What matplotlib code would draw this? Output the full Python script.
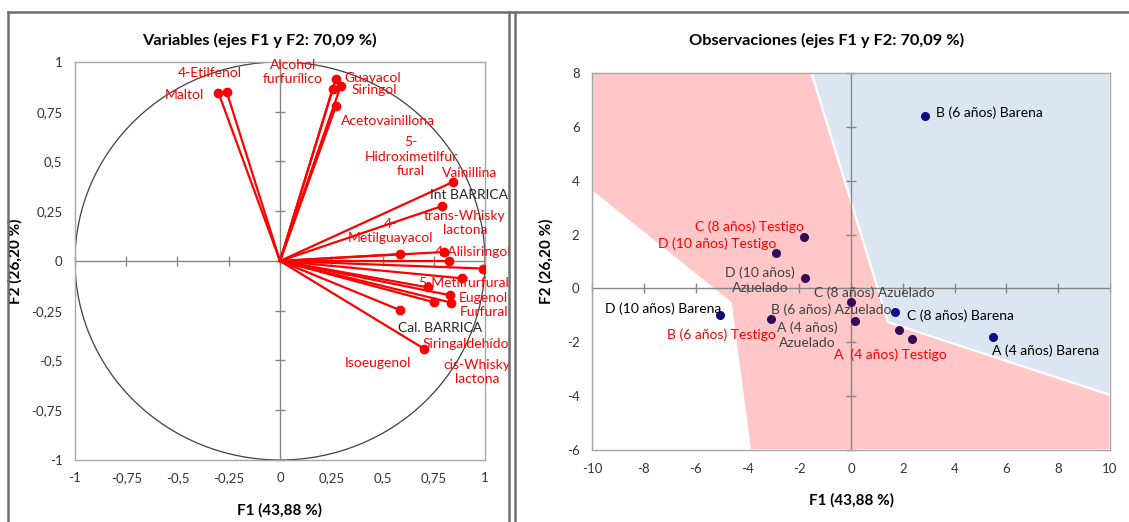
import numpy as np
import matplotlib.pyplot as plt
from matplotlib.patches import Polygon, Circle
from matplotlib.lines import Line2D
from matplotlib.ticker import FuncFormatter

plt.rcParams['font.family'] = ['Lato', 'DejaVu Sans']

# Variables: coordinates on F1 / F2 (correlation circle)
var_labels = [
    "Maltol", "4-Etilfenol",
    "Alcohol\nfurfurílico", "Guayacol", "Siringol", "Acetovainillona",
    "Vainillina", "trans-Whisky\nlactona", "4-\nMetilguayacol", "4-Alilsiringol",
    "5-\nHidroximetilfur\nfural", "Int BARRICA", "5-Metilfurfural", "Eugenol",
    "Furfural", "Cal. BARRICA", "cis-Whisky\nlactona", "Isoeugenol",
    "Siringaldehído",
]
var_f1 = [-0.30, -0.26, 0.257, 0.272, 0.296, 0.273,
          0.843, 0.788, 0.587, 0.80,
          0.824, 0.989, 0.887, 0.724,
          0.829, 0.749, 0.834, 0.583,
          0.701]
var_f2 = [0.845, 0.85, 0.863, 0.915, 0.879, 0.779,
          0.397, 0.275, 0.035, 0.045,
          0.0, -0.038, -0.087, -0.133,
          -0.172, -0.207, -0.209, -0.246,
          -0.44]
var_supplementary = ["Int BARRICA", "Cal. BARRICA"]

# where each variable name is written (centre of the text)
var_text_xy = [(-0.468, 0.834), (-0.341, 0.945),
               (0.063, 0.95), (0.454, 0.92), (0.459, 0.859), (0.527, 0.704),
               (0.927, 0.442), (0.902, 0.19), (0.541, 0.15), (0.94, 0.045),
               (0.639, 0.523), (0.922, 0.332), (0.897, -0.11), (0.99, -0.186),
               (0.995, -0.256), (0.78, -0.337), (0.96, -0.558), (0.478, -0.513),
               (0.907, -0.417)]

# Observations: scores on F1 / F2
obs_labels = [
    "B (6 años) Barena", "C (8 años) Barena", "A (4 años) Barena", "D (10 años) Barena",
    "C (8 años) Testigo", "D (10 años) Testigo", "B (6 años) Testigo", "A  (4 años) Testigo",
    "D (10 años)\nAzuelado", "C (8 años) Azuelado", "B (6 años) Azuelado", "A (4 años)\nAzuelado",
]
obs_group = ["Barena"] * 4 + ["Testigo"] * 4 + ["Azuelado"] * 4
obs_f1 = [2.86, 1.68, 5.49, -5.05,
          -1.83, -2.89, -3.09, 2.35,
          -1.79, 0.0, 0.17, 1.84]
obs_f2 = [6.39, -0.88, -1.81, -0.99,
          1.91, 1.30, -1.12, -1.88,
          0.37, -0.50, -1.21, -1.53]
obs_text_xy = [(5.34, 6.53), (4.22, -1.02), (7.51, -2.33), (-7.26, -0.75),
               (-3.92, 2.29), (-5.15, 1.66), (-5.0, -1.71), (1.53, -2.45),
               (-3.52, 0.31), (0.91, -0.16), (-0.76, -0.78), (-1.70, -1.73)]

# class regions drawn behind the observations
red_region_x = [-10, -1.52, 1.43, 10, 10, -3.9, -4.65, -10]
red_region_y = [8, 8, -1.25, -3.95, -6, -6, -0.53, 3.6]
blue_region_x = [-1.52, 10, 10, 1.43]
blue_region_y = [8, 8, -3.95, -1.25]

var_ticks = [-1, -0.75, -0.5, -0.25, 0, 0.25, 0.5, 0.75, 1]
obs_xticks = list(range(-10, 11, 2))
obs_yticks = list(range(-6, 9, 2))

comma = FuncFormatter(lambda v, _: f"{v:g}".replace('.', ','))

frame_col = '#a6a6a6'
axis_col = '#868686'
red = '#ff0000'

fig = plt.figure(figsize=(11.29, 5.22), dpi=100)
ax1 = fig.add_axes([0.0664, 0.1188, 0.3632, 0.7625])
ax2 = fig.add_axes([0.5244, 0.1379, 0.4588, 0.7222])


def style_axes(ax, xt, yt, xlim, ylim, tsize):
    ax.set_xlim(xlim)
    ax.set_ylim(ylim)
    ax.set_xticks(xt)
    ax.set_yticks(yt)
    ax.xaxis.set_major_formatter(comma)
    ax.yaxis.set_major_formatter(comma)
    ax.tick_params(length=0, labelsize=tsize, colors='#333333', pad=9)
    for s in ax.spines.values():
        s.set_color(frame_col)
        s.set_linewidth(1.0)
    # axes through the origin with cross ticks
    ax.axhline(0, color=axis_col, lw=1.0, zorder=2)
    ax.axvline(0, color=axis_col, lw=1.0, zorder=2)
    ax.plot(xt, np.zeros(len(xt)), ls='none', marker='|', ms=7, mew=1.0,
            color=axis_col, zorder=2, clip_on=False)
    ax.plot(np.zeros(len(yt)), yt, ls='none', marker='_', ms=7, mew=1.0,
            color=axis_col, zorder=2, clip_on=False)


# --- correlation circle ---
style_axes(ax1, var_ticks, var_ticks, (-1, 1), (-1, 1), 9.5)
ax1.add_patch(Circle((0, 0), 1, fill=False, ec='#404040', lw=0.9, zorder=1))
for lab, x, y, (tx, ty) in zip(var_labels, var_f1, var_f2, var_text_xy):
    ax1.plot([0, x], [0, y], color=red, lw=1.6, zorder=3)
    ax1.plot(x, y, 'o', color=red, ms=6, zorder=4)
    col = '#262626' if lab in var_supplementary else red
    ax1.text(tx, ty, lab, color=col, fontsize=10, ha='center', va='center',
             linespacing=1.25, zorder=5)
ax1.set_xlabel("F1 (43,88 %)", fontsize=11, fontweight='bold')
ax1.set_ylabel("F2 (26,20 %)", fontsize=11, fontweight='bold')
ax1.xaxis.set_label_coords(0.5, -0.108)
ax1.yaxis.set_label_coords(-0.127, 0.5)

# --- observations ---
style_axes(ax2, obs_xticks, obs_yticks, (-10, 10), (-6, 8), 9.5)
ax2.add_patch(Polygon(np.column_stack([red_region_x, red_region_y]), closed=True,
                      fc='#ffc7c7', ec='white', lw=1.5, zorder=0))
ax2.add_patch(Polygon(np.column_stack([blue_region_x, blue_region_y]), closed=True,
                      fc='#dce6f2', ec='white', lw=1.5, zorder=0))
dot_col = {"Barena": '#0d0d8a', "Testigo": '#330a55', "Azuelado": '#330a55'}
text_col = {"Barena": '#000000', "Testigo": red, "Azuelado": '#404040'}
for lab, g, x, y, (tx, ty) in zip(obs_labels, obs_group, obs_f1, obs_f2, obs_text_xy):
    ax2.plot(x, y, 'o', color=dot_col[g], ms=5.5, zorder=4)
    ax2.text(tx, ty, lab, color=text_col[g], fontsize=10, ha='center', va='center',
             linespacing=1.35, zorder=5)
ax2.set_xlabel("F1 (43,88 %)", fontsize=11, fontweight='bold')
ax2.set_ylabel("F2 (26,20 %)", fontsize=11, fontweight='bold')
ax2.xaxis.set_label_coords(0.5, -0.114)
ax2.yaxis.set_label_coords(-0.075, 0.5)

fig.text(259 / 1129, 1 - 40 / 522, "Variables (ejes F1 y F2: 70,09 %)",
         ha='center', va='center', fontsize=11.8, fontweight='bold')
fig.text(827 / 1129, 1 - 40 / 522, "Observaciones (ejes F1 y F2: 70,09 %)",
         ha='center', va='center', fontsize=11.8, fontweight='bold')

# panel frames
W, H = 1129, 522
for xs, ys in [([8, 8], [0, 510]), ([8, 1129], [510, 510]),
               ([509, 509], [0, 510]), ([515, 515], [0, 510])]:
    fig.add_artist(Line2D(np.array(xs) / W, np.array(ys) / H,
                          color='#6e6e6e', lw=1.8))

fig.savefig("out.png", dpi=100)
